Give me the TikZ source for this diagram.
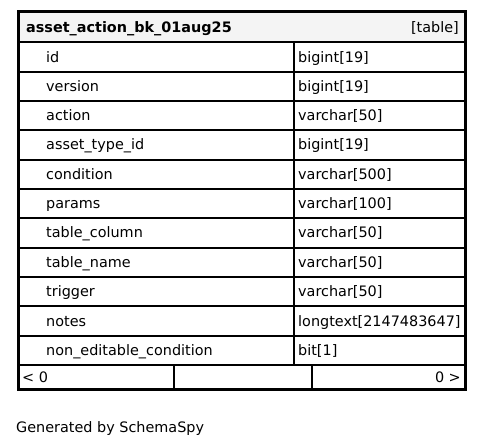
\documentclass[tikz,border=0pt]{standalone}
\usepackage{fontspec}
\setmainfont{DejaVu Sans}
\usetikzlibrary{calc}
\definecolor{headfill}{HTML}{F4F4F4}
\newcommand{\cell}[4]{ \draw[line width=1.5pt] ( #1 , #2 ) rectangle ( #3 , #4 );}
\newcommand{\lablfield}[4]{\node[anchor=base west,inner sep=0pt,font=\fontsize{14.4}{17}\selectfont] (#1) at ( #2 , #3 ) {#4};}

\begin{document}
\begin{tikzpicture}[x=1pt,y=-1pt]
        \useasboundingbox (0,0) rectangle (484,447);
        % header
        \fill[headfill] (19,12) rectangle (465,42);
        \cell{19}{12}{465}{42}
        \lablfield{tname}{26}{32}{\textbf{asset\_action\_bk\_01aug25}}
        \node[anchor=base east,inner sep=0pt,font=\fontsize{14.4}{17}\selectfont] (tkind) at (459,32) {[table]};
        % row 1
        \cell{19}{42}{294}{72}
        \cell{294}{42}{465}{72}
        \lablfield{id}{46}{62}{id}
        \lablfield{idtype}{298}{62}{bigint[19]}
        % row 2
        \cell{19}{72}{294}{101}
        \cell{294}{72}{465}{101}
        \lablfield{version}{46}{91.2}{version}
        \lablfield{versiontype}{298}{91.2}{bigint[19]}
        % row 3
        \cell{19}{101}{294}{130}
        \cell{294}{101}{465}{130}
        \lablfield{action}{46}{120.5}{action}
        \lablfield{actiontype}{298}{120.5}{varchar[50]}
        % row 4
        \cell{19}{130}{294}{160}
        \cell{294}{130}{465}{160}
        \lablfield{assettypeid}{46}{149.8}{asset\_type\_id}
        \lablfield{assettypeidtype}{298}{149.8}{bigint[19]}
        % row 5
        \cell{19}{160}{294}{189}
        \cell{294}{160}{465}{189}
        \lablfield{condition}{46}{179.2}{condition}
        \lablfield{conditiontype}{298}{179.2}{varchar[500]}
        % row 6
        \cell{19}{189}{294}{218}
        \cell{294}{189}{465}{218}
        \lablfield{params}{46}{208.5}{params}
        \lablfield{paramstype}{298}{208.5}{varchar[100]}
        % row 7
        \cell{19}{218}{294}{248}
        \cell{294}{218}{465}{248}
        \lablfield{tablecolumn}{46}{237.9}{table\_column}
        \lablfield{tablecolumntype}{298}{237.9}{varchar[50]}
        % row 8
        \cell{19}{248}{294}{277}
        \cell{294}{248}{465}{277}
        \lablfield{tablename}{46}{267.2}{table\_name}
        \lablfield{tablenametype}{298}{267.2}{varchar[50]}
        % row 9
        \cell{19}{277}{294}{306}
        \cell{294}{277}{465}{306}
        \lablfield{trigger}{46}{296.6}{trigger}
        \lablfield{triggertype}{298}{296.6}{varchar[50]}
        % row 10
        \cell{19}{306}{294}{336}
        \cell{294}{306}{465}{336}
        \lablfield{notes}{46}{326}{notes}
        \lablfield{notestype}{298}{326}{longtext[2147483647]}
        % row 11
        \cell{19}{336}{294}{365}
        \cell{294}{336}{465}{365}
        \lablfield{noneditable}{46}{355.3}{non\_editable\_condition}
        \lablfield{noneditabletype}{298}{355.3}{bit[1]}
        % footer row
        \cell{19}{365}{174}{389}
        \cell{174}{365}{312}{389}
        \cell{312}{365}{465}{389}
        \lablfield{parents}{22}{382}{< 0}
        \node[anchor=base east,inner sep=0pt,font=\fontsize{14.4}{17}\selectfont] (children) at (461,382) {0 >};
        % outer border
        \draw[line width=2.8pt] (18,11.5) rectangle (466,390);
        \lablfield{generated}{16}{432}{Generated by SchemaSpy}
\end{tikzpicture}
\end{document}
